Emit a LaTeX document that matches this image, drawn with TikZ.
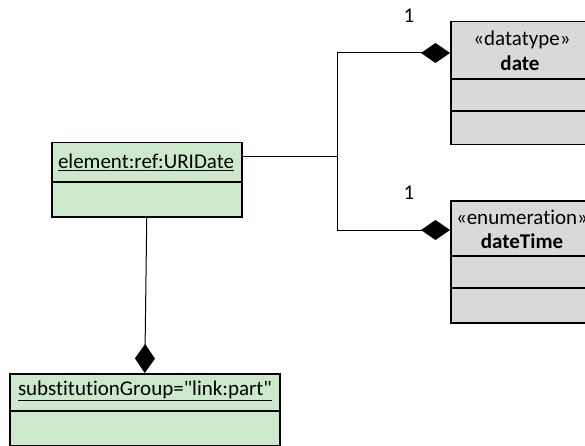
\documentclass[tikz,border=0pt]{standalone}
\usepackage{fontspec}
\setmainfont[Ligatures=NoCommon]{Carlito}
\newfontfamily\rawfont[Ligatures=NoCommon]{Carlito}
\usetikzlibrary{arrows.meta}
\definecolor{classgreen}{RGB}{205,233,203}
\definecolor{classgray}{RGB}{217,217,217}

\begin{document}
\fontsize{21}{25}\selectfont
\begin{tikzpicture}[x=1pt, y=-1pt,
  greenclass/.style={draw, line width=1.5pt, fill=classgreen, anchor=north west, inner sep=0pt},
  grayclass/.style={draw, line width=1.5pt, fill=classgray, anchor=north west, inner sep=0pt},
  assoc/.style={line width=1pt, -{Diamond[length=29pt, width=20pt]}}]

\useasboundingbox (0,0) rectangle (585,446);
\clip (0,0) rectangle (585,446);

% Define coordinates
\coordinate (fork) at (337,157);
\coordinate (dateEnd) at (450,53);
\coordinate (dateTimeEnd) at (450,230);

% Class element:ref:URIDate
\node[greenclass, minimum width=190pt, minimum height=74pt] (elem) at (51,142) {};
\node (elemName) at (146,162) {\underline{element:ref:URIDate}};
\draw[line width=1.5pt] (elem.north west) ++(0,40) -- ++(190,0);

% Class substitutionGroup
\node[greenclass, minimum width=270pt, minimum height=72pt] (subst) at (9,373) {};
\node (substName) at (145,391) {\rawfont\underline{substitutionGroup="link:part"}};
\draw[line width=1.5pt] (subst.north west) ++(0,38) -- ++(270,0);

% Datatype date
\node[grayclass, minimum width=144pt, minimum height=123pt] (date) at (450,21) {};
\node (dateStereo) at (522,40) {«datatype»};
\node (dateName) at (520,63) {\textbf{date}};
\draw[line width=1.5pt] (date.north west) ++(0,58) -- ++(144,0);
\draw[line width=1.5pt] (date.north west) ++(0,90) -- ++(144,0);

% Enumeration dateTime
\node[grayclass, minimum width=144pt, minimum height=122pt] (dateTime) at (450,200) {};
\node (dateTimeStereo) at (522,217) {«enumeration»};
\node (dateTimeName) at (522,241) {\textbf{dateTime}};
\draw[line width=1.5pt] (dateTime.north west) ++(0,56) -- ++(144,0);
\draw[line width=1.5pt] (dateTime.north west) ++(0,88) -- ++(144,0);

% Connectors
\draw[line width=1pt] (elem.east |- fork) -- (fork);
\draw[assoc] (fork) |- (dateEnd);
\draw[assoc] (fork) |- (dateTimeEnd);
\draw[assoc] (elem.south) -- (subst.north);

% Multiplicities
\node (dateMult) at (409,16) {1};
\node (dateTimeMult) at (409,193) {1};

\end{tikzpicture}
\end{document}
